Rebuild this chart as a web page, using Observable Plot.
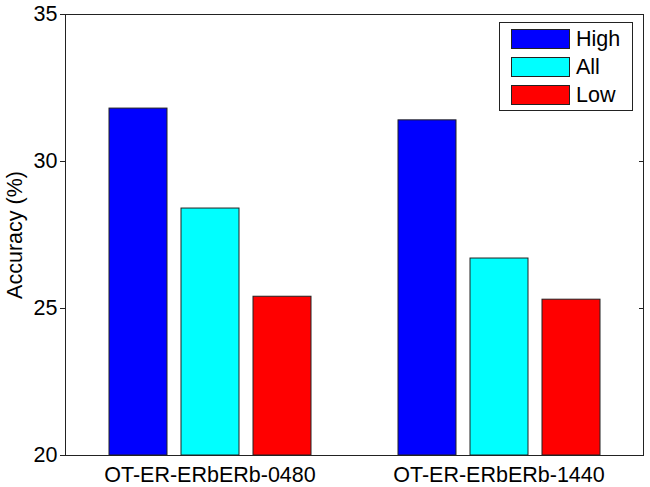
<!DOCTYPE html>
<html>
<head>
<meta charset="utf-8">
<script src="https://cdn.jsdelivr.net/npm/d3@7"></script>
<script src="https://cdn.jsdelivr.net/npm/@observablehq/plot@0.6"></script>
<style>
  body { margin: 0; background: #fff; }
  #wrap { position: relative; width: 650px; height: 487px; font-family: "Liberation Sans", Arial, sans-serif; }
  #legend { position: absolute; left: 499px; top: 22px; width: 134px; height: 89px; border: 1px solid #222; background: #fff; box-sizing: border-box; }
  .item { position: absolute; left: 11px; height: 20px; display: flex; align-items: center; }
  .sw { width: 59px; height: 20px; border: 1px solid #222; box-sizing: border-box; margin-right: 6px; }
  .lab { font-size: 21.5px; color: #000; line-height: 20px; }
</style>
</head>
<body>
<div id="wrap"></div>
<script>
const groups = ["OT-ER-ERbERb-0480", "OT-ER-ERbERb-1440"];
const series = ["High", "All", "Low"];
const high = [31.8, 31.4];
const all = [28.4, 26.7];
const low = [25.4, 25.3];
const colors = ["#0000ff", "#00ffff", "#ff0000"];
const yTicks = [20, 25, 30, 35];
const yLabel = "Accuracy (%)";

const valuesBySeries = [high, all, low];
const data = [];
series.forEach((s, si) => groups.forEach((g, gi) => data.push({group: g, series: s, value: valuesBySeries[si][gi]})));

const yMin = d3.min(yTicks), yMax = d3.max(yTicks);

const chart = Plot.plot({
  width: 650,
  height: 487,
  marginLeft: 65,
  marginRight: 7,
  marginTop: 14,
  marginBottom: 32,
  style: {fontFamily: "'Liberation Sans', Arial, sans-serif", fontSize: "21.5px", color: "#000", background: "#fff"},
  fx: {domain: groups, padding: 0},
  x: {domain: series, paddingInner: 0.2, paddingOuter: 0.58, axis: null},
  y: {domain: [yMin, yMax]},
  color: {domain: series, range: colors},
  marks: [
    Plot.barY(data, {fx: "group", x: "series", y1: yMin, y2: "value", fill: "series", stroke: "#222", strokeWidth: 1}),
    Plot.ruleY([yMin, yMax], {stroke: "#222", strokeWidth: 1}),
    Plot.frame({anchor: "left", facetAnchor: "left", stroke: "#222", strokeWidth: 1}),
    Plot.frame({anchor: "right", facetAnchor: "right", stroke: "#222", strokeWidth: 1}),
    Plot.axisY({anchor: "left", ticks: yTicks, tickSize: 5, tickPadding: 3, stroke: "#222",
                label: yLabel, labelArrow: "none", labelAnchor: "center", labelOffset: 59, tickFormat: d3.format("d")}),
    Plot.axisY({anchor: "right", ticks: yTicks, tickSize: -5, stroke: "#222", tickFormat: () => "", label: null}),
    Plot.axisFx({anchor: "bottom", tickSize: 0, tickPadding: 11, label: null})
  ]
});

const wrap = document.getElementById("wrap");
wrap.appendChild(chart);

const legend = document.createElement("div");
legend.id = "legend";
series.forEach((s, i) => {
  const item = document.createElement("div");
  item.className = "item";
  item.style.top = (6 + i * 28) + "px";
  const sw = document.createElement("div");
  sw.className = "sw";
  sw.style.background = colors[i];
  const lab = document.createElement("span");
  lab.className = "lab";
  lab.textContent = s;
  item.appendChild(sw);
  item.appendChild(lab);
  legend.appendChild(item);
});
wrap.appendChild(legend);
</script>
</body>
</html>
